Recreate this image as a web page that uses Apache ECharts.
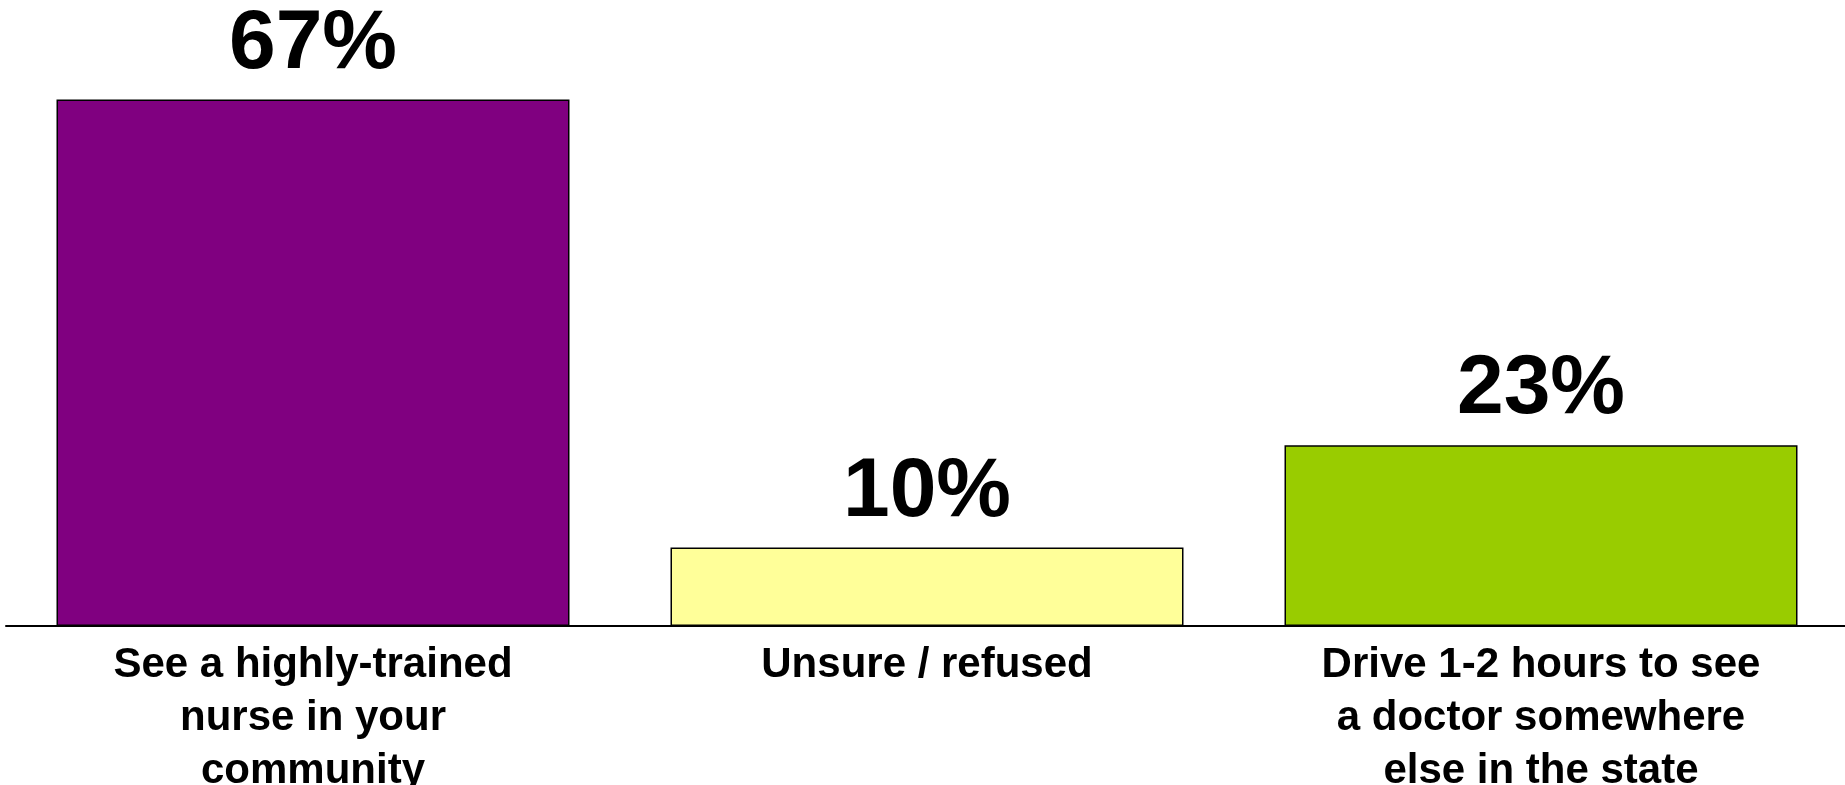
<!DOCTYPE html>
<html>
<head>
<meta charset="utf-8">
<script src="https://cdn.jsdelivr.net/npm/echarts@6/dist/echarts.min.js"></script>
<style>
html,body{margin:0;padding:0;background:#fff;}
#c{width:1845px;height:785px;}
</style>
</head>
<body>
<div id="c"></div>
<script>
const categories = [
  "See a highly-trained\nnurse in your\ncommunity",
  "Unsure / refused",
  "Drive 1-2 hours to see\na doctor somewhere\nelse in the state"
];
const values = [67, 10, 23];
const barColors = ["#800080", "#FFFF99", "#99CC00"];

const chart = echarts.init(document.getElementById('c'), null, {renderer: 'canvas'});
chart.setOption({
  backgroundColor: '#ffffff',
  animation: false,
  grid: {left: 6, right: -3, top: 76, bottom: 159, containLabel: false, outerBoundsMode: 'none'},
  xAxis: {
    type: 'category',
    data: categories,
    axisLine: {show: true, lineStyle: {color: '#000', width: 2}},
    axisTick: {show: false},
    axisLabel: {
      color: '#000',
      fontFamily: 'Liberation Sans, Arial, sans-serif',
      fontWeight: 'bold',
      fontSize: 42,
      lineHeight: 53,
      margin: 13,
      interval: 0
    }
  },
  yAxis: {
    type: 'value',
    min: 0,
    max: 70,
    show: false,
    splitLine: {show: false}
  },
  series: [{
    type: 'bar',
    barWidth: 513,
    data: values.map((v, i) => ({
      value: v,
      itemStyle: {color: barColors[i], borderColor: '#000', borderWidth: 1.5}
    })),
    label: {
      show: true,
      position: 'top',
      distance: 13,
      formatter: '{c}%',
      color: '#000',
      fontFamily: 'Liberation Sans, Arial, sans-serif',
      fontWeight: 'bold',
      fontSize: 84,
      lineHeight: 84
    }
  }]
});
</script>
</body>
</html>
